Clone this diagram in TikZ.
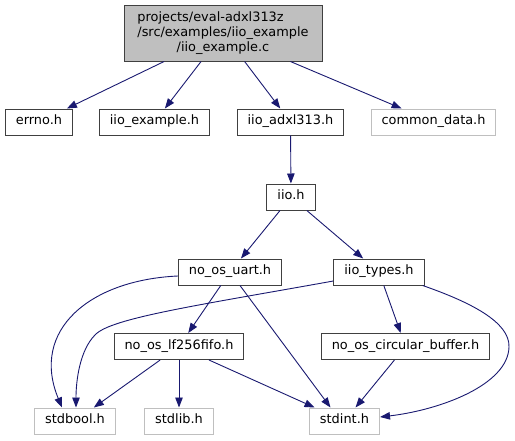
\documentclass[tikz,border=0pt]{standalone}
\usepackage{fontspec}
\setmainfont{DejaVu Sans}
\usetikzlibrary{arrows.meta, positioning}

\definecolor{edgeblue}{HTML}{191970}
\definecolor{boxgrey}{HTML}{BFBFBF}
\definecolor{boxedge}{HTML}{404040}

\begin{document}
\begin{tikzpicture}[
                    x=1pt, y=-1pt,
                    font=\fontsize{12.9}{15}\selectfont,
                    file/.style={rectangle, draw=boxedge, line width=1pt, fill=white, inner xsep=10.5pt, inner ysep=0pt, minimum height=26pt, text height=0.75em, text depth=0.25em},
                    sysfile/.style={file, draw=boxgrey},
                    mainfile/.style={rectangle, draw=boxedge, line width=1pt, fill=boxgrey, minimum width=198pt, minimum height=56pt, inner sep=0pt},
                    dep/.style={draw=edgeblue, line width=0.9pt, -{Triangle[length=10pt, width=7.5pt]}}
                ]
                    \useasboundingbox (0,0) rectangle (515,440);

                    % Place nodes
                    \node [mainfile] (main) at (223,33) {\begin{tabular}{@{}l@{}}projects/eval-adxl313z\\/src/examples/iio\_example\\\multicolumn{1}{@{}c@{}}{/iio\_example.c}\end{tabular}};
                    \node [file] (errno) at (39,122) {errno.h};
                    \node [file] (iioexample) at (154.5,122) {iio\_example.h};
                    \node [file] (adxl) at (290.5,122) {iio\_adxl313.h};
                    \node [sysfile] (commondata) at (433.5,122) {common\_data.h};
                    \node [file] (iio) at (291,197) {iio.h};
                    \node [file] (uart) at (230,272) {no\_os\_uart.h};
                    \node [file] (iiotypes) at (379,272) {iio\_types.h};
                    \node [file] (fifo) at (179,346.5) {no\_os\_lf256fifo.h};
                    \node [file] (circbuf) at (405.5,346.5) {no\_os\_circular\_buffer.h};
                    \node [sysfile] (stdbool) at (75,421) {stdbool.h};
                    \node [sysfile] (stdlib) at (179,421) {stdlib.h};
                    \node [sysfile] (stdint) at (344.5,421) {stdint.h};

                    % Draw edges
                    \path [dep] (main) -- (errno);
                    \path [dep] (main) -- (iioexample);
                    \path [dep] (main) -- (adxl);
                    \path [dep] (main) -- (commondata);
                    \path [dep] (adxl) -- (iio);
                    \path [dep] (iio) -- (uart);
                    \path [dep] (iio) -- (iiotypes);
                    \path [dep] ([yshift=-4pt]uart.west) .. controls (90,280) and (30,330) .. ([xshift=-13pt]stdbool.north);
                    \path [dep] (uart) -- (fifo);
                    \path [dep] (uart) -- ([xshift=-14pt]stdint.north);
                    \path [dep] ([yshift=-9pt]iiotypes.west) .. controls (200,305) and (110,318) .. (95,335) .. controls (80,350) and (76,380) .. ([xshift=1pt]stdbool.north);
                    \path [dep] (iiotypes) -- (circbuf);
                    \path [dep] ([xshift=-2pt]iiotypes.south east) .. controls (470,302) and (510,322) .. (509,347) .. controls (508,385) and (440,410) .. ([yshift=4pt]stdint.east);
                    \path [dep] (fifo) -- (stdbool);
                    \path [dep] (fifo) -- (stdlib);
                    \path [dep] (fifo) -- (stdint);
                    \path [dep] (circbuf) -- (stdint);
            \end{tikzpicture}
\end{document}
